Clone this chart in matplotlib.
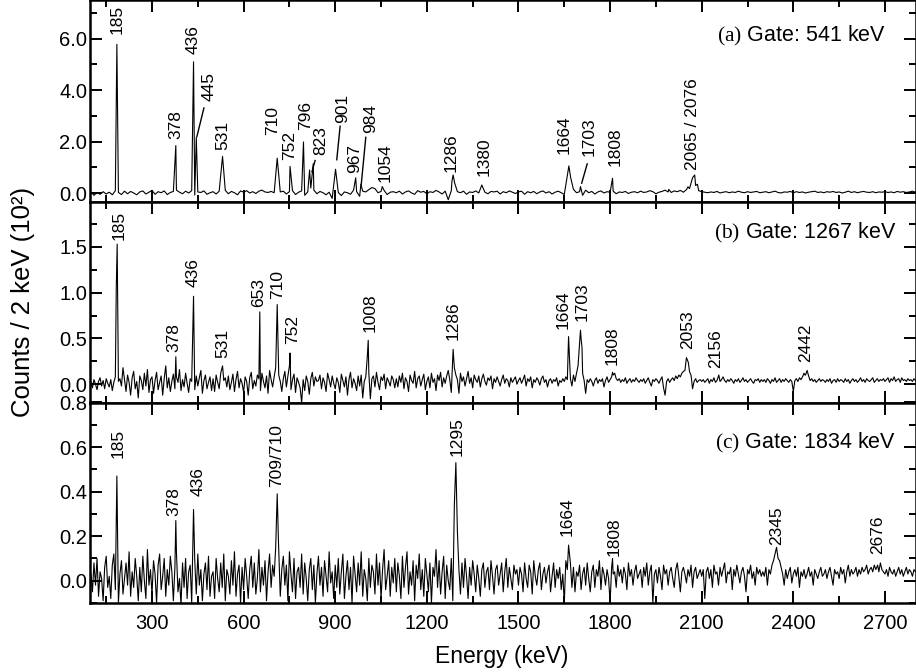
import numpy as np
import matplotlib
matplotlib.use("Agg")
import matplotlib.pyplot as plt
from matplotlib.ticker import MultipleLocator, FormatStrFormatter

plt.rcParams["font.family"] = ["Liberation Sans", "DejaVu Sans"]
plt.rcParams["mathtext.fontset"] = "custom"
plt.rcParams["mathtext.rm"] = "Liberation Serif"

# background, units of 10^2 counts / 2 keV
grid_a = np.arange(100, 2801, 10)   # panel (a): every 10 keV
grid_bc = np.arange(100, 2801, 5)   # panels (b), (c): every 5 keV

bg_a = [
    0.05, -0.08, 0.02, -0.04, 0.06, -0.03, 0.04, -0.06, 0.10, 0.03, -0.05, 0.08, -0.02, 0.07, 0.01, -0.06, 0.05, 0.09, -0.03, 0.04,   # 100
    0.11, -0.04, 0.06, 0.02, 0.09, -0.05, 0.03, 0.07, 0.12, 0.04, -0.02, 0.08, 0.01, 0.10, -0.07, 0.05, 0.03, 0.09, -0.04, 0.02,    # 300
    0.06, -0.03, 0.08, 0.05, 0.11, -0.02, 0.07, 0.02, -0.06, 0.09, 0.04, 0.10, 0.01, 0.06, -0.01, 0.08, 0.12, 0.05, 0.03, 0.07,     # 500
    0.02, -0.04, 0.05, 0.08, -0.03, 0.06, 0.10, -0.05, 0.04, 0.09, -0.08, 0.05, 0.20, 0.12, -0.02, 0.07, 0.02, -0.06, 0.04, -0.20,   # 700
    0.10, 0.03, -0.09, 0.05, 0.02, -0.04, 0.12, 0.06, -0.12, 0.08, 0.05, 0.14, 0.03, 0.18, 0.02, 0.07, 0.11, -0.05, 0.04, 0.06,     # 900
    0.02, 0.08, -0.03, 0.05, 0.09, 0.01, -0.04, 0.10, 0.04, 0.07, -0.02, 0.06, 0.03, 0.11, 0.05, -0.03, 0.08, -0.25, 0.10, 0.12,    # 1100
    0.06, 0.02, 0.08, -0.04, 0.05, 0.03, 0.09, 0.01, 0.12, 0.04, -0.02, 0.07, 0.05, 0.08, -0.03, 0.06, 0.02, 0.09, 0.04, -0.01,     # 1300
    0.05, 0.08, -0.04, 0.06, 0.02, 0.07, -0.02, 0.05, 0.09, 0.01, 0.06, -0.03, 0.04, 0.08, 0.02, -0.05, 0.10, 0.30, 0.15, 0.02,     # 1500
    0.06, -0.08, 0.12, 0.02, 0.07, -0.03, 0.05, 0.09, 0.01, 0.06, 0.04, 0.08, -0.02, 0.05, 0.03, 0.07, -0.01, 0.04, 0.06, 0.02,     # 1700
    0.08, 0.03, 0.05, 0.10, 0.06, -0.02, 0.04, 0.07, 0.12, 0.05, 0.03, 0.09, 0.06, 0.11, 0.04, 0.14, 0.18, 0.25, 0.30, 0.10,       # 1900
    0.06, 0.04, 0.02, 0.05, 0.03, 0.07, 0.01, 0.04, 0.06, 0.02, 0.05, 0.03, 0.08, 0.04, 0.02, 0.06, 0.03, 0.05, 0.07, 0.02,        # 2100
    0.04, 0.06, 0.02, 0.05, 0.08, 0.03, 0.01, 0.05, 0.04, 0.07, 0.02, 0.06, 0.03, 0.05, 0.01, 0.04, 0.06, 0.08, 0.03, 0.05,        # 2300
    0.02, 0.06, 0.04, 0.07, 0.03, 0.05, 0.01, 0.04, 0.08, 0.03, 0.06, 0.02, 0.05, 0.07, 0.04, 0.03, 0.06, 0.02, 0.05, 0.04,        # 2500
    0.06, 0.03, 0.05, 0.02, 0.07, 0.04, 0.06, 0.03, 0.05, 0.08, 0.04,                                                              # 2700
]
bg_b = [
    # 100
    0.02, -0.04, 0.05, 0.00, -0.06, 0.03, 0.07, -0.02, 0.04, -0.05, 0.06, 0.01, -0.03, 0.05, -0.07, 0.02, 0.08, -0.04, 0.03, 0.06,
    -0.02, 0.18, 0.05, -0.08, 0.10, 0.02, -0.12, 0.07, 0.14, -0.05, 0.03, -0.15, 0.09, 0.04, -0.06, 0.12, -0.02, 0.16, -0.09, 0.05,
    # 300
    0.08, -0.10, 0.04, 0.13, -0.06, 0.02, 0.09, -0.12, 0.06, 0.20, -0.04, 0.07, -0.08, 0.03, 0.11, -0.05, 0.08, 0.02, 0.16, -0.07,
    0.05, -0.03, 0.12, 0.01, -0.09, 0.06, 0.03, 0.22, -0.06, 0.09, -0.02, 0.07, 0.15, -0.10, 0.04, 0.10, -0.05, 0.02, 0.08, -0.07,
    # 500
    0.06, -0.08, 0.10, 0.02, -0.05, 0.12, -0.10, 0.04, 0.07, -0.03, 0.09, -0.06, 0.02, 0.11, -0.08, 0.05, 0.14, -0.04, 0.06, 0.01,
    -0.09, 0.08, 0.03, -0.12, 0.07, 0.13, -0.05, 0.04, -0.02, 0.10, 0.06, -0.07, 0.12, 0.03, -0.04, 0.09, -0.10, 0.15, 0.05, -0.03,
    # 700
    0.08, 0.18, -0.05, 0.10, 0.03, -0.08, 0.06, 0.14, -0.03, 0.09, 0.20, -0.06, 0.05, 0.11, -0.09, 0.07, 0.02, -0.04, -0.20, 0.05,
    -0.07, 0.09, 0.03, -0.11, 0.06, 0.13, -0.02, 0.08, 0.03, 0.04, 0.10, -0.05, 0.07, 0.02, -0.08, 0.12, 0.05, -0.03, 0.09, 0.01,
    # 900
    -0.05, 0.07, 0.02, -0.09, 0.11, 0.04, -0.03, 0.08, -0.12, 0.05, 0.13, -0.04, 0.06, 0.01, -0.07, 0.09, -0.02, 0.10, -0.15, 0.03,
    0.08, 0.30, 0.12, -0.16, 0.06, 0.09, -0.03, 0.13, 0.02, -0.06, 0.08, 0.04, 0.11, -0.05, 0.07, 0.03, -0.02, 0.09, 0.05, -0.04,
    # 1100
    0.06, -0.03, 0.09, 0.02, 0.12, -0.05, 0.07, 0.03, -0.08, 0.10, 0.04, 0.01, 0.14, -0.04, 0.06, 0.09, -0.02, 0.05, 0.11, -0.06,
    0.03, 0.08, -0.04, 0.12, 0.02, 0.06, -0.07, 0.10, 0.04, 0.13, -0.03, 0.07, 0.01, 0.09, 0.15, 0.05, -0.09, 0.03, 0.18, 0.10,
    # 1300
    0.05, -0.10, 0.12, 0.03, 0.08, -0.02, 0.06, 0.14, 0.01, 0.07, -0.04, 0.10, 0.05, 0.02, 0.09, -0.03, 0.06, 0.11, 0.03, -0.01,
    0.07, 0.04, 0.09, -0.05, 0.06, 0.02, 0.08, 0.03, -0.02, 0.05, 0.10, 0.01, 0.06, 0.04, -0.03, 0.07, 0.02, 0.05, 0.08, 0.00,
    # 1500
    0.04, 0.07, 0.01, 0.05, 0.10, -0.02, 0.06, 0.03, 0.08, -0.04, 0.05, 0.02, 0.07, 0.04, -0.01, 0.06, 0.09, 0.02, 0.05, -0.03,
    0.04, 0.06, 0.01, 0.05, 0.03, 0.07, -0.02, 0.04, 0.02, 0.06, 0.03, 0.08, 0.05, 0.15, 0.06, -0.02, 0.10, 0.03, 0.12, 0.20,
    # 1700
    0.45, 0.50, 0.12, 0.04, -0.10, 0.05, 0.02, 0.06, 0.03, -0.02, 0.04, 0.07, 0.01, 0.05, 0.03, 0.06, -0.03, 0.04, 0.08, 0.02,
    0.05, 0.08, 0.10, 0.12, 0.06, 0.04, 0.06, 0.02, 0.05, 0.03, 0.07, 0.01, 0.04, 0.06, 0.02, 0.05, 0.03, 0.07, 0.04, 0.02,
    # 1900
    0.05, 0.03, 0.06, 0.01, 0.04, 0.07, 0.02, -0.02, 0.05, 0.03, 0.06, 0.04, 0.01, 0.05, 0.08, -0.04, -0.12, 0.03, 0.06, 0.02,
    0.05, 0.07, 0.04, 0.09, 0.06, 0.10, 0.08, 0.12, 0.14, 0.18, 0.25, 0.20, 0.14, 0.10, -0.05, 0.03, 0.06, 0.02, 0.04, 0.05,
    # 2100
    0.03, 0.05, 0.02, 0.04, 0.06, 0.01, 0.05, 0.03, 0.07, 0.02, 0.04, 0.06, 0.03, 0.05, 0.08, 0.04, 0.02, 0.05, 0.03, 0.06,
    0.04, 0.01, 0.05, 0.03, 0.06, 0.02, 0.04, 0.07, 0.03, 0.05, 0.02, 0.04, 0.06, 0.03, 0.01, 0.05, 0.04, 0.06, 0.02, 0.05,
    # 2300
    0.03, 0.05, 0.02, 0.06, 0.04, 0.01, 0.05, 0.03, 0.07, 0.02, 0.04, 0.06, 0.02, 0.05, 0.03, 0.06, 0.04, 0.02, 0.05, 0.03,
    -0.08, 0.04, 0.06, 0.03, 0.07, 0.05, 0.08, 0.12, 0.10, 0.06, 0.09, 0.04, 0.06, 0.03, 0.05, 0.02, 0.04, 0.06, 0.03, 0.05,
    # 2500
    0.04, 0.02, 0.05, 0.03, 0.06, 0.01, 0.04, 0.05, 0.02, 0.06, 0.03, 0.05, 0.04, 0.02, 0.06, 0.03, 0.05, 0.01, 0.04, 0.06,
    0.03, 0.05, 0.02, 0.04, 0.07, 0.03, 0.05, 0.02, 0.06, 0.04, 0.03, 0.05, 0.07, 0.02, 0.04, 0.06, 0.03, 0.05, 0.04, 0.06,
    # 2700
    0.03, 0.05, 0.07, 0.02, 0.06, 0.04, 0.08, 0.03, 0.05, 0.06, 0.02, 0.07, 0.04, 0.05, 0.03, 0.06, 0.04, 0.05, 0.03, 0.06,
    0.04,
]
bg_c = [
    # 100
    0.03, -0.05, 0.08, -0.02, 0.10, -0.07, 0.04, 0.01, -0.09, 0.06, 0.11, -0.03, 0.02, -0.08, 0.07, 0.12, -0.04, 0.05, -0.10, 0.03,
    0.09, -0.06, 0.01, 0.08, -0.02, 0.13, -0.07, 0.04, -0.03, 0.10, 0.02, -0.09, 0.06, -0.05, 0.11, 0.00, -0.08, 0.14, -0.02, 0.05,
    # 300
    -0.06, 0.09, 0.03, -0.10, 0.07, 0.12, -0.04, 0.02, 0.10, -0.07, 0.05, -0.02, 0.11, 0.04, -0.09, 0.06, 0.13, -0.05, 0.01, -0.11,
    0.08, -0.03, 0.10, -0.08, 0.04, 0.07, -0.10, 0.02, 0.09, -0.06, 0.12, -0.02, 0.05, -0.09, 0.03, 0.08, -0.04, 0.11, -0.07, 0.02,
    # 500
    0.04, -0.08, 0.10, 0.01, -0.05, 0.08, -0.03, 0.12, -0.09, 0.05, 0.02, -0.06, 0.09, -0.02, 0.13, -0.07, 0.03, 0.07, -0.10, 0.06,
    -0.04, 0.10, 0.02, -0.08, 0.05, 0.11, -0.03, 0.08, -0.06, 0.01, 0.14, -0.05, 0.06, -0.02, 0.09, -0.09, 0.04, 0.12, -0.03, 0.07,
    # 700
    0.02, 0.15, -0.04, 0.08, -0.07, 0.05, 0.11, -0.02, 0.07, -0.09, 0.13, 0.03, -0.05, 0.10, -0.08, 0.04, 0.06, -0.03, 0.12, -0.06,
    0.08, 0.01, -0.09, 0.05, 0.10, -0.04, 0.07, -0.10, 0.03, 0.11, -0.02, 0.06, -0.07, 0.09, 0.02, -0.05, 0.13, -0.01, 0.04, -0.08,
    # 900
    0.07, -0.03, 0.10, -0.06, 0.04, 0.12, -0.08, 0.02, 0.09, -0.04, 0.06, -0.10, 0.11, 0.03, -0.05, 0.08, -0.02, 0.13, -0.07, 0.05,
    0.01, -0.09, 0.10, -0.03, 0.07, 0.04, -0.06, 0.12, -0.02, 0.08, -0.08, 0.05, 0.14, -0.04, 0.02, 0.09, -0.07, 0.06, -0.01, 0.10,
    # 1100
    -0.05, 0.08, 0.02, -0.08, 0.11, -0.03, 0.06, 0.13, -0.06, 0.04, -0.02, 0.09, -0.09, 0.07, 0.01, 0.12, -0.04, 0.05, -0.07, 0.10,
    0.03, -0.05, 0.08, -0.10, 0.06, 0.02, 0.14, -0.03, 0.09, -0.06, 0.04, 0.11, -0.08, 0.07, 0.00, -0.04, 0.10, -0.09, 0.06, 0.08,
    # 1300
    0.12, 0.05, -0.06, 0.08, -0.03, 0.10, 0.02, -0.08, 0.06, -0.02, 0.09, 0.03, -0.05, 0.07, 0.01, -0.07, 0.05, 0.08, -0.03, 0.04,
    0.06, -0.04, 0.09, 0.02, -0.06, 0.05, 0.07, -0.02, 0.03, 0.08, -0.05, 0.04, 0.10, -0.03, 0.06, 0.01, -0.04, 0.07, 0.03, 0.05,
    # 1500
    -0.02, 0.06, 0.03, -0.05, 0.08, 0.01, -0.03, 0.07, 0.04, -0.06, 0.09, 0.02, -0.02, 0.05, 0.08, -0.04, 0.03, 0.06, -0.01, 0.04,
    0.07, -0.05, 0.02, 0.08, -0.03, 0.05, 0.01, 0.06, -0.04, 0.03, -0.10, 0.09, 0.05, 0.12, 0.08, -0.03, 0.06, -0.05, 0.04, 0.02,
    # 1700
    0.07, -0.04, 0.03, 0.06, -0.02, 0.08, 0.01, -0.05, 0.04, 0.07, -0.03, 0.05, 0.02, 0.09, -0.04, 0.06, 0.03, -0.02, 0.05, 0.01,
    -0.10, 0.06, 0.03, 0.04, -0.03, 0.07, 0.02, 0.05, -0.01, 0.06, 0.03, -0.04, 0.08, 0.02, 0.05, -0.02, 0.04, 0.07, 0.01, 0.03,
    # 1900
    0.05, -0.03, 0.06, 0.02, 0.08, -0.02, 0.04, 0.07, -0.10, 0.03, 0.05, -0.01, 0.06, 0.02, -0.04, 0.07, 0.03, 0.05, -0.02, 0.04,
    0.06, 0.01, -0.03, 0.05, 0.08, 0.02, -0.05, 0.04, 0.06, 0.03, -0.01, 0.05, 0.02, 0.07, -0.03, 0.04, 0.06, 0.01, 0.03, 0.05,
    # 2100
    0.02, 0.05, -0.08, 0.04, 0.06, 0.01, 0.05, -0.03, 0.07, 0.03, 0.04, -0.02, 0.06, 0.02, 0.05, 0.08, -0.01, 0.04, 0.03, 0.06,
    -0.04, 0.05, 0.02, 0.07, 0.03, -0.01, 0.04, 0.06, 0.02, -0.05, 0.05, 0.03, 0.07, 0.01, 0.04, -0.02, 0.06, 0.03, 0.05, 0.02,
    # 2300
    0.04, 0.02, 0.06, -0.02, 0.05, 0.03, 0.07, 0.09, 0.10, 0.12, 0.11, 0.09, 0.06, 0.03, -0.02, 0.05, 0.01, 0.04, 0.06, -0.01,
    0.03, 0.05, 0.02, 0.06, -0.03, 0.04, 0.02, 0.05, 0.01, 0.03, 0.06, 0.02, 0.04, -0.02, 0.05, 0.03, 0.01, 0.04, 0.06, 0.02,
    # 2500
    0.03, 0.05, 0.01, 0.04, 0.06, 0.02, -0.02, 0.05, 0.03, 0.04, 0.01, 0.06, 0.03, 0.05, -0.01, 0.04, 0.07, 0.02, 0.05, 0.03,
    0.04, 0.06, 0.02, 0.05, 0.03, 0.06, 0.04, 0.05, 0.07, 0.03, 0.05, 0.06, 0.04, 0.07, 0.05, 0.06, 0.04, 0.08, 0.05, 0.04,
    # 2700
    0.03, 0.05, 0.02, 0.06, 0.04, 0.03, 0.05, 0.02, 0.04, 0.06, 0.03, 0.05, 0.02, 0.04, 0.06, 0.03, 0.05, 0.04, 0.02, 0.05,
    0.04,
]

# peak channels (keV) and heights
peak_e_a = [185, 378, 436, 445, 531, 710, 752, 796, 816, 828, 901, 967, 984, 1020, 1054,
            1282, 1286, 1291, 1380, 1660, 1665, 1671, 1703, 1808, 1992, 2055, 2070, 2077, 2086]
peak_h_a = [5.78, 1.85, 5.10, 2.17, 1.43, 1.36, 1.04, 1.99, 0.90, 1.15, 0.93, 0.60, 0.35, 0.22, 0.26,
            0.45, 0.71, 0.40, 0.32, 0.70, 1.06, 0.60, 0.26, 0.58, 0.15, 0.25, 0.60, 0.71, 0.35]

peak_e_b = [183, 186, 378, 436, 531, 653, 710, 752, 1005, 1008, 1286, 1664,
            1698, 1703, 1708, 1808, 2045, 2050, 2056, 2062, 2156, 2438, 2445]
peak_h_b = [1.05, 1.53, 0.30, 0.96, 0.20, 0.79, 0.87, 0.34, 0.30, 0.48, 0.38, 0.52,
            0.35, 0.59, 0.40, 0.13, 0.15, 0.29, 0.24, 0.12, 0.10, 0.10, 0.15]

peak_e_c = [185, 378, 436, 710, 714, 1290, 1295, 1300, 1664, 1808, 2340, 2345, 2350, 2676]
peak_h_c = [0.47, 0.27, 0.32, 0.39, 0.18, 0.34, 0.53, 0.22, 0.16, 0.10, 0.12, 0.15, 0.10, 0.07]

labels_a = ["185", "378", "436", "445", "531", "710", "752", "796", "823", "901", "967", "984",
            "1054", "1286", "1380", "1664", "1703", "1808", "2065 / 2076"]
labels_b = ["185", "378", "436", "531", "653", "710", "752", "1008", "1286", "1664", "1703",
            "1808", "2053", "2156", "2442"]
labels_c = ["185", "378", "436", "709/710", "1295", "1664", "1808", "2345", "2676"]
gates = ["541", "1267", "1834"]

# label placement (keV, bottom of text in axis units)
lab_x_a = [185, 378, 434, 487, 532, 696, 750, 804, 853, 925, 963, 1017, 1064, 1279, 1389, 1649, 1732, 1815, 2070]
lab_y_a = [6.17, 2.1, 5.39, 3.57, 1.69, 2.27, 1.3, 2.47, 1.49, 2.73, 0.8, 2.34, 0.45, 0.82, 0.65, 1.52, 1.43, 1.04, 0.91]
lab_x_b = [192, 373, 435, 532, 648, 712, 761, 1015, 1286, 1647, 1709, 1807, 2055, 2146, 2441]
lab_y_b = [1.57, 0.35, 1.06, 0.29, 0.84, 0.93, 0.44, 0.57, 0.48, 0.60, 0.69, 0.21, 0.38, 0.18, 0.24]
lab_x_c = [190, 373, 452, 709, 1299, 1660, 1812, 2345, 2676]
lab_y_c = [0.55, 0.29, 0.38, 0.42, 0.56, 0.20, 0.11, 0.16, 0.12]
leaders_a = [((470, 3.31), (447, 2.2)), ((834, 1.27), (824, 0.84)), ((916, 2.6), (905, 1.3)),
             ((1000, 2.17), (985, 0.32)), ((1725, 1.14), (1707, 0.39))]


def spectrum(grid, bg, pk_e, pk_h):
    e = grid.astype(float)
    y = np.asarray(bg, float)
    if len(y) != len(e):
        raise ValueError("background length %d != grid length %d" % (len(y), len(e)))
    keep = np.ones(len(e), bool)
    for p in pk_e:
        keep &= np.abs(e - p) > 1.5
    x = np.concatenate([e[keep], pk_e])
    yy = np.concatenate([y[keep], pk_h])
    order = np.argsort(x, kind="stable")
    return x[order], yy[order]


fig = plt.figure(figsize=(9.16, 6.72), dpi=100)
W, H = 916, 672
left, right = 90 / W, 915.5 / W
ax_a = fig.add_axes([left, 470 / H, right - left, 202 / H])
ax_b = fig.add_axes([left, 269.5 / H, right - left, 200.5 / H])
ax_c = fig.add_axes([left, 69 / H, right - left, 200.5 / H])

panels = [
    (ax_a, grid_a, bg_a, peak_e_a, peak_h_a, labels_a, lab_x_a, lab_y_a, (-0.34, 7.5), 2.0, 1.0, "a", 2703, 6.1),
    (ax_b, grid_bc, bg_b, peak_e_b, peak_h_b, labels_b, lab_x_b, lab_y_b, (-0.2, 1.99), 0.5, 0.25, "b", 2736, 1.65),
    (ax_c, grid_bc, bg_c, peak_e_c, peak_h_c, labels_c, lab_x_c, lab_y_c, (-0.1, 0.8), 0.2, 0.1, "c", 2736, 0.62),
]

for i, (ax, grid, bg, pe, ph, labs, lx, ly, ylim, maj, mnr, tag, gx, gy) in enumerate(panels):
    x, y = spectrum(grid, bg, pe, ph)
    ax.plot(x, y, color="black", lw=0.8)
    ax.set_xlim(97, 2800)
    ax.set_ylim(*ylim)
    ax.xaxis.set_major_locator(MultipleLocator(300))
    ax.xaxis.set_minor_locator(MultipleLocator(150))
    ax.yaxis.set_major_locator(MultipleLocator(maj))
    ax.yaxis.set_minor_locator(MultipleLocator(mnr))
    ax.yaxis.set_major_formatter(FormatStrFormatter("%.1f"))
    ax.tick_params(which="both", direction="in", top=True, right=True, width=1.4)
    ax.tick_params(which="major", length=8.5)
    ax.tick_params(which="minor", length=5)
    ax.tick_params(axis="y", pad=2, labelsize=14.5)
    ax.tick_params(axis="x", pad=8, labelsize=14.5)
    for s in ax.spines.values():
        s.set_linewidth(1.8)
    if i < 2:
        ax.tick_params(axis="x", labelbottom=False)
    for t, tx, ty in zip(labs, lx, ly):
        ax.text(tx, ty, t, rotation=90, ha="center", va="bottom", fontsize=12.5)
    ax.text(gx, gy, r"$\mathrm{(%s)}$ Gate: %s keV" % (tag, gates[i]),
            ha="right", va="center", fontsize=15.5)

for (x1, y1), (x2, y2) in leaders_a:
    ax_a.plot([x1, x2], [y1, y2], color="black", lw=1.0)

fig.text(23 / W, 1 - 302 / H, "Counts / 2 keV (10²)", rotation=90,
         ha="center", va="center", fontsize=18.5)
fig.text(502 / W, 1 - 657 / H, "Energy (keV)", ha="center", va="center", fontsize=16.5)

fig.savefig("out.png", dpi=100)
